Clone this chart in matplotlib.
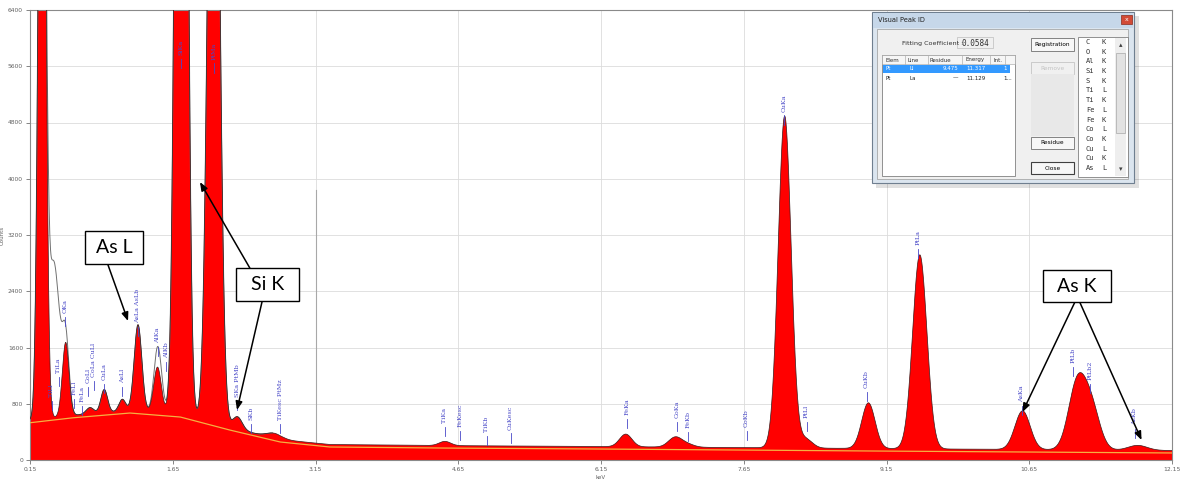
import numpy as np
import matplotlib.pyplot as plt
from matplotlib.patches import Rectangle

# EDS spectrum, energy in keV, intensity in counts
bg_kev = [0.15, 0.60, 1.20, 1.73, 2.25, 2.78, 3.30, 4.50, 6.15, 9.00, 12.15]
bg_counts = [530, 600, 668, 611, 426, 256, 185, 170, 156, 128, 100]

peak_kev = [0.277, 0.525, 0.78, 0.93, 1.12, 1.285, 1.49, 1.74, 2.08, 2.33, 2.72,
            4.51, 6.41, 6.93, 7.06, 8.08, 8.30, 8.96, 9.50, 10.58, 11.15, 11.30, 11.79]
peak_height = [13000, 1050, 90, 330, 170, 1230, 650, 25000, 13000, 180, 70,
               60, 180, 140, 40, 4720, 130, 650, 2760, 550, 900, 600, 70]
peak_sigma = [0.035, 0.035, 0.04, 0.035, 0.035, 0.04, 0.04, 0.048, 0.055, 0.05, 0.08,
              0.06, 0.065, 0.07, 0.07, 0.068, 0.07, 0.07, 0.075, 0.08, 0.09, 0.09, 0.1]

# second trace (dark outline) differs only at low energy
extra_kev = [0.40, 1.50]
extra_height = [2200, 300]
extra_sigma = [0.06, 0.04]

# peak markers
mark_text = ["TiLl", "TiLa", "OKa", "FeLl", "FeLa", "CoLl", "CoLa CuLl", "CuLa", "AsLl",
             "AsLa AsLb", "AlKa", "AlKb", "SiKa", "PtMa", "SKa PtMb", "SKb", "TiKesc PtMz",
             "TiKa", "FeKesc", "TiKb", "CuKesc", "FeKa", "CoKa", "FeKb", "CoKb", "CuKa",
             "PtLl", "CuKb", "PtLa", "AsKa", "PtLb", "PtLb2", "AsKb"]
mark_kev = [0.38, 0.45, 0.52, 0.61, 0.70, 0.76, 0.82, 0.93, 1.12,
            1.28, 1.49, 1.58, 1.74, 2.08, 2.33, 2.47, 2.78,
            4.51, 4.67, 4.95, 5.20, 6.42, 6.95, 7.06, 7.68, 8.07,
            8.31, 8.94, 9.48, 10.57, 11.11, 11.29, 11.76]
mark_counts = [896, 1237, 2090, 924, 825, 1095, 1180, 1138, 1095,
               1948, 1664, 1450, 5760, 5690, 896, 569, 569,
               526, 469, 398, 427, 640, 597, 455, 469, 4950,
               597, 1024, 3057, 825, 1379, 1138, 498]

x_ticks = [0.15, 1.65, 3.15, 4.65, 6.15, 7.65, 9.15, 10.65, 12.15]
y_ticks = [0, 800, 1600, 2400, 3200, 4000, 4800, 5600, 6400]

# callout boxes: text, centre (keV, counts), size (keV, counts)
box_text = ["As L", "Si K", "As K"]
box_kev = [1.033, 2.646, 11.15]
box_counts = [3022, 2496, 2474]
box_w = [0.61, 0.66, 0.71]
box_h = [469, 469, 455]

# arrows: start (keV, counts) -> tip (keV, counts)
arrow_from = [(0.97, 2773), (2.46, 2730), (2.59, 2261), (11.13, 2247), (11.18, 2247)]
arrow_to = [(1.18, 1977), (1.936, 3953), (2.325, 711), (10.58, 683), (11.83, 284)]

# Visual Peak ID dialog contents
list_elem = ["C", "O", "Al", "Si", "S", "Ti", "Ti", "Fe", "Fe", "Co", "Co", "Cu", "Cu", "As"]
list_line = ["K", "K", "K", "K", "K", "L", "K", "L", "K", "L", "K", "L", "K", "L"]
table_header = ["Elem", "Line", "Residue", "Energy", "Int."]
table_row1 = ["Pt", "Ll", "9.475", "11.317", "1"]
table_row2 = ["Pt", "La", "\u2014", "11.129", "1..."]

kev = np.arange(0.15, 12.1551, 0.004)
spec = np.interp(kev, bg_kev, bg_counts) + 35
for e, h, s in zip(peak_kev, peak_height, peak_sigma):
    spec = spec + h * np.exp(-0.5 * ((kev - e) / s) ** 2)
trace2 = spec.copy()
for e, h, s in zip(extra_kev, extra_height, extra_sigma):
    trace2 = trace2 + h * np.exp(-0.5 * ((kev - e) / s) ** 2)

W, H = 1182, 483
fig = plt.figure(figsize=(W / 100, H / 100), dpi=100)
ax = fig.add_axes([30 / W, 1 - 460 / H, 1142 / W, 450 / H])

ax.fill_between(kev, 0, spec, color="#ff0000", lw=0, zorder=2)
low = kev < 2.7
ax.plot(kev[low], trace2[low], color="#707070", lw=0.7, zorder=3)
ax.plot(kev, spec, color="#3a1a1a", lw=0.5, zorder=3)
ax.plot(bg_kev, bg_counts, color="#f5b041", lw=0.9, zorder=4)
ax.plot([3.15, 3.15], [0, 3840], color="#a8a8a8", lw=0.8, zorder=1)

for t, e, c in zip(mark_text, mark_kev, mark_counts):
    ax.plot([e, e], [c - 190, c - 50], color="#4848c8", lw=0.6, zorder=5)
    ax.text(e, c, t, rotation=90, ha="center", va="bottom", fontsize=4.6,
            color="#4848c8", family="DejaVu Serif", zorder=5)

ax.set_xlim(0.15, 12.15)
ax.set_ylim(0, 6400)
ax.set_xticks(x_ticks)
ax.set_xticklabels([f"{v:.2f}" for v in x_ticks])
ax.set_yticks(y_ticks)
ax.set_yticklabels([str(v) for v in y_ticks])
ax.tick_params(labelsize=4.3, labelcolor="#606060", color="#707070", length=3, width=0.6, pad=2)
ax.grid(color="#dcdcdc", lw=0.6)
ax.set_axisbelow(True)
for sp in ax.spines.values():
    sp.set_color("#8a8a8a")
    sp.set_linewidth(0.8)
ax.set_xlabel("keV", fontsize=4, color="#606060", labelpad=2)
ax.set_ylabel("Counts", fontsize=4, color="#606060", labelpad=2)

for t, e, c, w, h in zip(box_text, box_kev, box_counts, box_w, box_h):
    ax.add_patch(Rectangle((e - w / 2, c - h / 2), w, h, fc="white", ec="black",
                           lw=1.0, zorder=7, clip_on=False))
    ax.text(e, c, t, ha="center", va="center", fontsize=14, family="Lato", zorder=8)

for (x0, y0), (x1, y1) in zip(arrow_from, arrow_to):
    ax.annotate("", xy=(x1, y1), xytext=(x0, y0), zorder=6,
                arrowprops=dict(arrowstyle="-|>,head_length=0.5,head_width=0.2",
                                color="black", lw=1.1, shrinkA=0, shrinkB=0))

# dialog window drawn on a pixel canvas over the chart
dlg = fig.add_axes([0, 0, 1, 1], zorder=10)
dlg.set_xlim(0, W)
dlg.set_ylim(H, 0)
dlg.axis("off")

def box(x, y, w, h, **kw):
    dlg.add_patch(Rectangle((x, y), w, h, **kw))

box(876, 16, 263, 172, fc="black", alpha=0.12, lw=0)
box(872, 12, 262, 171, fc="#dbe5ef", ec="#6f7f90", lw=0.8)
box(873, 13, 260, 15, fc="#c6d7e9", lw=0)
dlg.text(878, 20.5, "Visual Peak ID", fontsize=4.8, va="center", color="#202020")
box(1121, 15, 11, 9, fc="#d24a36", ec="#8a2a1a", lw=0.5)
dlg.text(1126.5, 19.5, "x", fontsize=4.5, ha="center", va="center", color="white")
box(877, 29, 251, 150, fc="#f0f0f0", ec="#9a9a9a", lw=0.5)

dlg.text(902, 43, "Fitting Coefficient : ", fontsize=4.6, va="center", color="#303030")
box(957, 37, 36, 11, fc="#f0f0f0", ec="#b0b0b0", lw=0.4)
dlg.text(962, 43, "0.0584", fontsize=5.5, va="center", color="#303030",
         family="DejaVu Sans Mono")

box(882, 55, 133, 121, fc="white", ec="#808080", lw=0.6)
box(882, 55, 133, 9, fc="#f6f6f6", ec="#a0a0a0", lw=0.4)
for xs in [905, 928, 962, 990, 1005]:
    dlg.plot([xs, xs], [55, 64], color="#b0b0b0", lw=0.5)
for t, xs in zip(table_header, [885, 908, 930, 965, 993]):
    dlg.text(xs, 60, t, fontsize=4, va="center", color="#303030")
box(883, 65, 127, 8, fc="#3399ff", lw=0)
row_x = [885, 910, 958, 986, 1003]
row_ha = ["left", "left", "right", "right", "left"]
for t, xs, ha in zip(table_row1, row_x, row_ha):
    dlg.text(xs, 69, t, fontsize=4, va="center", ha=ha, color="white")
for t, xs, ha in zip(table_row2, row_x, row_ha):
    dlg.text(xs, 78, t, fontsize=4, va="center", ha=ha, color="#202020")

box(1031, 38, 43, 13, fc="#f7f7f7", ec="#707070", lw=0.6)
dlg.text(1052.5, 44.5, "Registration", fontsize=4.2, ha="center", va="center")
box(1031, 62, 43, 12, fc="#f0f0f0", ec="#c4c4c4", lw=0.6)
dlg.text(1052.5, 68, "Remove", fontsize=4.2, ha="center", va="center", color="#c4c4c4")
box(1031, 74, 43, 62, fc="#e8e8e8", lw=0)
box(1031, 137, 43, 12, fc="#f7f7f7", ec="#707070", lw=0.6)
dlg.text(1052.5, 143, "Residue", fontsize=4.2, ha="center", va="center")
box(1031, 162, 43, 12, fc="#f7f7f7", ec="#404040", lw=0.8)
dlg.text(1052.5, 168, "Close", fontsize=4.2, ha="center", va="center")

box(1078, 37, 50, 140, fc="white", ec="#808080", lw=0.6)
for i, (el, ln) in enumerate(zip(list_elem, list_line)):
    yy = 42 + i * 9.7
    dlg.text(1086, yy, el, fontsize=5, va="center", family="DejaVu Sans Mono", color="#303030")
    dlg.text(1102, yy, ln, fontsize=5, va="center", family="DejaVu Sans Mono", color="#303030")
box(1115, 38, 11, 138, fc="#eeeeee", lw=0)
box(1116, 53, 9, 80, fc="#e2e2e2", ec="#a8a8a8", lw=0.5)
dlg.text(1120.5, 45, "\u25b4", fontsize=5, ha="center", va="center", color="#404040")
dlg.text(1120.5, 169, "\u25be", fontsize=5, ha="center", va="center", color="#404040")

fig.savefig("out.png", dpi=100)
